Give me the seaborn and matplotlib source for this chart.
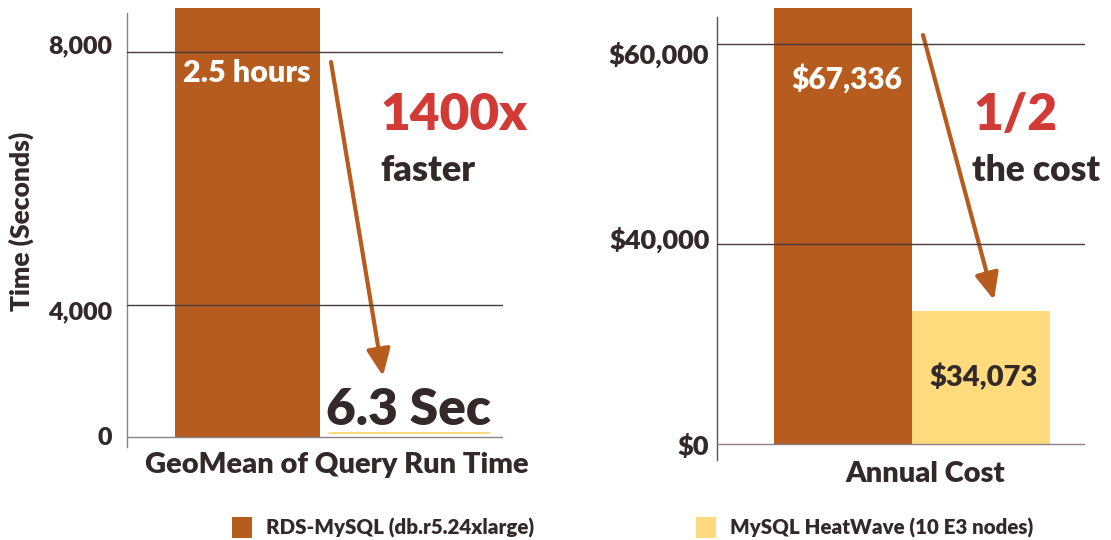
import numpy as np
import pandas as pd
import matplotlib
matplotlib.use("Agg")
import matplotlib.pyplot as plt
import matplotlib.transforms as mtransforms
import seaborn as sns

# ---- data ----
systems = ["RDS-MySQL (db.r5.24xlarge)", "MySQL HeatWave (10 E3 nodes)"]
query_time_sec = [9000, 6.3]          # 2.5 hours vs 6.3 sec
annual_cost_usd = [67336, 34073]
time_ticks = [0, 4000, 8000]
time_tick_labels = ["0", "4,000", "8,000"]
cost_ticks = [0, 40000, 60000]
cost_tick_labels = ["$0", "$40,000", "$60,000"]

ORANGE = "#b65c1e"
YELLOW = "#ffdb7e"
RED = "#d23a36"
DARK = "#33292a"
GRID = "#463b3b"
BASE = "#8a8282"

W, H = 1111, 540

sns.set_style("white")
plt.rcParams["font.family"] = ["Lato", "DejaVu Sans"]
plt.rcParams["font.weight"] = "heavy"
plt.rcParams["axes.labelweight"] = "heavy"
plt.rcParams["text.color"] = DARK


def piecewise_scale(vals, heights):
    # the original axes are not linear: map value -> pixel height above zero
    v = np.asarray(vals, float)
    h = np.asarray(heights, float)
    s0 = (h[1] - h[0]) / (v[1] - v[0])
    s1 = (h[-1] - h[-2]) / (v[-1] - v[-2])
    big = 1e7
    v = np.r_[v[0] - big, v, v[-1] + big]
    h = np.r_[h[0] - big * s0, h, h[-1] + big * s1]
    return (lambda x: np.interp(x, v, h)), (lambda y: np.interp(y, h, v))


def px(x, y):
    return x / W, 1 - y / H


fig = plt.figure(figsize=(W / 100, H / 100), dpi=100)


def panel(box, metric, values, ticks, tick_labels, anchors, zero_y, xlim,
          ytick_size, ytick_pad, xtick_pad, xlab_dx, ylab_dy, spine_color):
    x0, x1, ybot, ytop = box
    ax = fig.add_axes([x0 / W, 1 - ybot / H, (x1 - x0) / W, (ybot - ytop) / H])
    df = pd.DataFrame({"metric": [metric] * len(systems), "system": systems, "value": values})
    sns.barplot(data=df, x="metric", y="value", hue="system",
                palette=[ORANGE, YELLOW], saturation=1, errorbar=None,
                width=0.8, ax=ax, legend=True)
    for p in ax.patches:
        p.set_clip_on(False)
        p.set_linewidth(0)

    fwd, inv = piecewise_scale(*anchors)
    ax.set_yscale("function", functions=(fwd, inv))
    ax.set_ylim(inv(-(ybot - zero_y)), inv(zero_y - ytop))
    ax.set_xlim(*xlim)

    ax.set_yticks(ticks)
    ax.set_yticklabels(tick_labels)
    for t in ticks:
        ax.axhline(t, color=BASE if t == 0 else GRID, lw=1.0, zorder=5)

    for s in ["top", "right", "bottom"]:
        ax.spines[s].set_visible(False)
    ax.spines["left"].set_color(spine_color)
    ax.spines["left"].set_linewidth(1.0)

    ax.tick_params(axis="y", length=2.5, width=1, color=GRID, pad=ytick_pad,
                   labelsize=ytick_size, labelcolor=DARK)
    ax.tick_params(axis="x", length=0, pad=xtick_pad, labelsize=21, labelcolor=DARK)
    ax.set_xlabel("")
    ax.set_ylabel("")

    for lbl in ax.get_xticklabels():
        lbl.set_transform(lbl.get_transform() +
                          mtransforms.ScaledTranslation(xlab_dx / 100, 0, fig.dpi_scale_trans))
    for lbl, dy in zip(ax.get_yticklabels(), ylab_dy):
        lbl.set_transform(lbl.get_transform() +
                          mtransforms.ScaledTranslation(0, -dy / 100, fig.dpi_scale_trans))
    return ax


ax1 = panel((127.3, 503, 446.7, 12.7), "GeoMean of Query Run Time", query_time_sec,
            time_ticks, time_tick_labels,
            ([0, 4000, 8000, 9000], [0, 131.8, 385, 429.6]), 437.3,
            (-0.532, 0.505), 18, 8.5, 4, 17, [-1, 5, -8], "#8c8585")
ax2 = panel((717, 1085, 460, 16.5), "Annual Cost", annual_cost_usd,
            cost_ticks, cost_tick_labels,
            ([0, 34073, 40000, 60000, 67336], [0, 133, 200, 400, 436.4]), 444,
            (-0.565, 0.501), 19.5, 3, 1, 13.5, [1, -6.5, 9], "#5a5252")

ax1.set_ylabel("Time (Seconds)", fontsize=19, fontweight="heavy", color=DARK, va="center")
ax1.yaxis.set_label_coords((21 - 127.3) / (503 - 127.3), (446.7 - 221) / (446.7 - 12.7))

# legend along the bottom
handles, labels = ax1.get_legend_handles_labels()
ax1.get_legend().remove()
ax2.get_legend().remove()
fig.legend(handles, labels, loc="center left", bbox_to_anchor=px(232, 527.5),
           ncol=2, frameon=False, fontsize=14.8, borderpad=0, borderaxespad=0,
           handlelength=0.95, handleheight=1.25, handletextpad=0.7,
           columnspacing=7.9)

# annotations
fig.text(*px(246.5, 73), "2.5 hours", color="white", fontsize=22, ha="center", va="center")
fig.text(*px(454.5, 115), "1400x", color=RED, fontsize=37, ha="center", va="center")
fig.text(*px(427.5, 170), "faster", color=DARK, fontsize=26, ha="center", va="center")
fig.text(*px(408, 410), "6.3 Sec", color=DARK, fontsize=37, ha="center", va="center")
fig.add_artist(plt.Line2D([329 / W, 489 / W], [1 - 432.7 / H] * 2, color=YELLOW, lw=1.4))

fig.text(*px(846.5, 79), "$67,336", color="white", fontsize=21.5, ha="center", va="center")
fig.text(*px(1016, 115), "1/2", color=RED, fontsize=37, ha="center", va="center")
fig.text(*px(1036, 170), "the cost", color=DARK, fontsize=25.5, ha="center", va="center")
fig.text(*px(983.5, 377), "$34,073", color=DARK, fontsize=21, ha="center", va="center")

arrow = dict(arrowstyle="-|>,head_length=0.45,head_width=0.2", mutation_scale=36,
             lw=3, color=ORANGE, shrinkA=0, shrinkB=0)
for ax, start, tip in [(ax1, (331, 62), (383, 376)), (ax2, (923, 35), (994, 300))]:
    ann = ax.annotate("", xy=(tip[0], H - tip[1]), xytext=(start[0], H - start[1]),
                      xycoords="figure pixels", textcoords="figure pixels",
                      arrowprops=arrow, annotation_clip=False)
    ann.arrow_patch.set_clip_on(False)

fig.savefig("out.png", dpi=100)
